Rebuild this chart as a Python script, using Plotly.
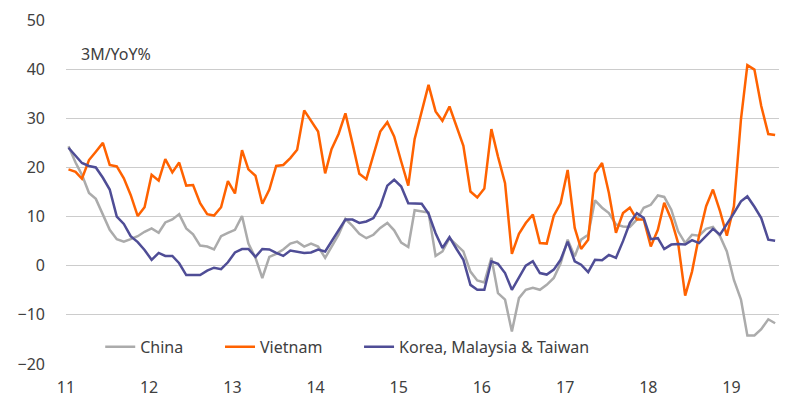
import pandas as pd
import plotly.graph_objects as go

# monthly, Jan 2011 - Jul 2019, 3M/YoY %
china = [24.3, 21.0, 18.5, 14.8, 13.6, 10.3, 7.3, 5.4, 4.9, 5.4, 6.0, 6.9,
         7.6, 6.7, 8.8, 9.4, 10.5, 7.6, 6.4, 4.1, 3.9, 3.3, 6.0, 6.7,
         7.3, 10.1, 4.5, 1.6, -2.5, 1.8, 2.4, 3.3, 4.5, 4.9, 3.9, 4.5,
         3.9, 1.6, 3.9, 6.3, 9.5, 8.1, 6.5, 5.6, 6.3, 7.7, 8.7, 7.2,
         4.7, 3.8, 11.3, 11.0, 10.8, 2.0, 2.9, 5.6, 4.3, 2.9, -1.2, -3.0,
         -3.4, 1.6, -5.6, -6.9, -13.4, -6.6, -4.9, -4.5, -4.9, -3.9, -2.5, 0.5,
         5.3, 1.9, 5.3, 6.3, 13.3, 11.8, 10.7, 8.4, 8.0, 7.9, 9.4, 11.8,
         12.4, 14.3, 14.0, 11.4, 7.0, 4.6, 6.3, 6.1, 7.5, 7.9, 6.0, 2.9,
         -2.9, -6.9, -14.2, -14.2, -12.9, -10.9, -11.7]
vietnam = [19.6, 19.1, 17.7, 21.5, 23.2, 25.0, 20.5, 20.2, 17.8, 14.4, 10.1, 11.9,
           18.5, 17.3, 21.7, 19.0, 21.0, 16.3, 16.4, 12.7, 10.5, 10.2, 11.9, 17.2,
           14.7, 23.5, 19.6, 18.3, 12.6, 15.5, 20.3, 20.5, 21.9, 23.6, 31.6, 29.4,
           27.3, 18.8, 23.7, 26.8, 31.0, 24.9, 18.7, 17.6, 22.6, 27.3, 29.2, 26.3,
           21.2, 16.3, 25.8, 31.4, 36.8, 31.4, 29.5, 32.4, 28.3, 24.4, 15.1, 13.9,
           15.7, 27.8, 22.2, 16.8, 2.4, 6.5, 8.7, 10.4, 4.6, 4.5, 10.2, 12.7,
           19.5, 7.7, 3.4, 5.3, 18.8, 20.9, 14.8, 6.7, 10.7, 11.8, 9.4, 9.4,
           3.9, 7.3, 12.8, 9.4, 4.6, -6.1, -1.2, 6.1, 12.1, 15.5, 11.1, 6.1,
           12.1, 29.8, 40.8, 39.9, 32.5, 26.8, 26.6]
kmt = [24.0, 22.3, 20.9, 20.3, 20.0, 17.9, 15.5, 10.0, 8.5, 6.0, 4.8, 3.2,
       1.2, 2.6, 2.0, 2.0, 0.5, -1.9, -1.9, -1.9, -1.0, -0.4, -0.7, 0.7,
       2.7, 3.4, 3.4, 1.8, 3.4, 3.3, 2.6, 2.0, 3.1, 2.9, 2.6, 2.7,
       3.3, 2.9, 4.9, 7.3, 9.4, 9.4, 8.7, 9.0, 9.7, 12.1, 16.3, 17.5,
       16.1, 12.7, 12.7, 12.6, 10.6, 6.6, 3.6, 5.8, 3.4, 1.2, -3.9, -4.9,
       -4.9, 0.9, 0.4, -1.5, -4.9, -2.5, 0.0, 0.9, -1.5, -1.8, -0.8, 1.2,
       4.9, 0.9, 0.2, -1.3, 1.2, 1.1, 2.2, 1.6, 5.0, 8.7, 10.7, 9.7,
       5.4, 5.6, 3.4, 4.3, 4.4, 4.3, 5.2, 4.6, 6.0, 7.5, 6.3, 8.4,
       10.7, 13.1, 14.1, 12.0, 9.7, 5.3, 5.1]

months = pd.date_range('2011-01-01', periods=len(china), freq='MS') + pd.Timedelta(days=11)
year_ticks = pd.date_range('2011-01-01', '2019-01-01', freq='YS')
year_labels = ['11', '12', '13', '14', '15', '16', '17', '18', '19']

FONT = 'Noto Sans'
TEXT = '#404040'
x_range = ['2011-01-01', '2019-07-29']

fig = go.Figure()
fig.add_trace(go.Scatter(x=months, y=china, name='China', mode='lines', legend='legend',
                         line=dict(color='#ababab', width=2.5)))
fig.add_trace(go.Scatter(x=months, y=vietnam, name='Vietnam', mode='lines', legend='legend2',
                         line=dict(color='#ff6200', width=2.5)))
fig.add_trace(go.Scatter(x=months, y=kmt, name='Korea, Malaysia & Taiwan', mode='lines',
                         legend='legend3', line=dict(color='#4f4d96', width=2.5)))

leg = dict(orientation='h', y=0.05, xanchor='left', yanchor='middle',
           bgcolor='rgba(0,0,0,0)', font=dict(size=16, color=TEXT))

# the page body adds an 8px offset, so margins are shifted to compensate
fig.update_layout(
    width=800, height=412,
    margin=dict(l=58, r=29, t=12, b=56, autoexpand=False),
    paper_bgcolor='white', plot_bgcolor='white',
    font=dict(family=FONT, size=16, color=TEXT),
    showlegend=True,
    legend=dict(leg, x=0.048),
    legend2=dict(leg, x=0.216),
    legend3=dict(leg, x=0.411),
    xaxis=dict(type='date', range=x_range, tickvals=year_ticks, ticktext=year_labels,
               showgrid=False, zeroline=False, showline=False, ticks='',
               automargin=False, ticklabelstandoff=12, tickfont=dict(size=16)),
    xaxis2=dict(type='date', range=x_range, overlaying='x', anchor='free', position=20 / 70,
                tickvals=year_ticks, showticklabels=False, showgrid=False, zeroline=False,
                showline=True, linecolor='#8c8c8c', linewidth=1, automargin=False,
                ticks='outside', ticklen=5, tickcolor='#8c8c8c', layer='below traces'),
    yaxis=dict(range=[-20, 50], dtick=10, showgrid=True, gridcolor='#cccccc', gridwidth=1,
               zeroline=False, showline=False, ticks='', ticklabelstandoff=20,
               automargin=False, tickfont=dict(size=16)),
    annotations=[dict(text='3M/YoY%', xref='paper', yref='paper', x=0.018, y=0.901,
                      xanchor='left', yanchor='middle', showarrow=False,
                      font=dict(size=16, color=TEXT))],
)

fig.write_html('out.html')
